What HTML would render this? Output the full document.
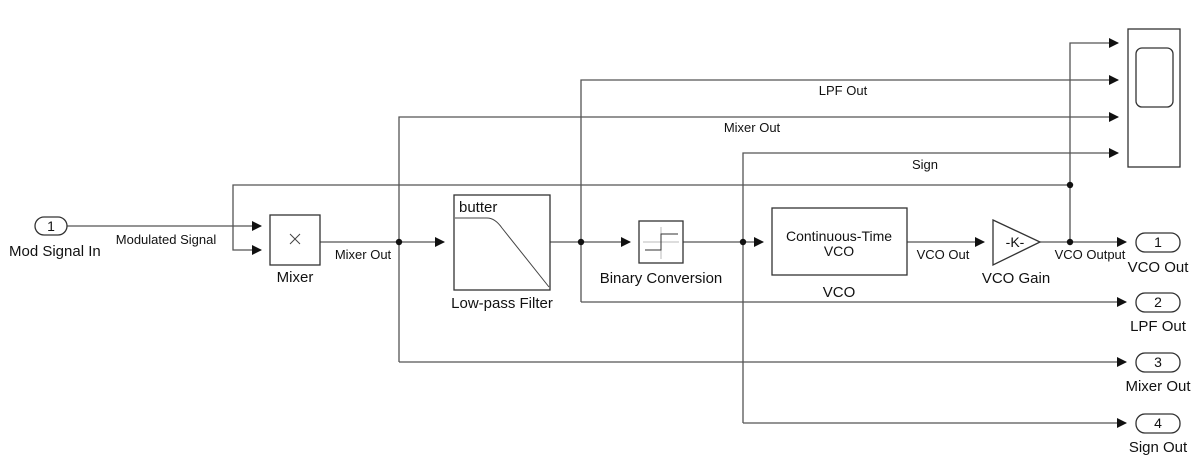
<!DOCTYPE html>
<html><head><style>body{margin:0;background:#fff}svg{display:block}text{font-family:"Liberation Sans",sans-serif;fill:#111}</style></head><body>
<svg width="1200" height="476" viewBox="0 0 1200 476" xmlns="http://www.w3.org/2000/svg">
<defs><marker id="a" markerWidth="10" markerHeight="10" refX="9" refY="5" orient="auto" markerUnits="userSpaceOnUse"><path d="M0,0 L10,5 L0,10z" fill="#111"/></marker></defs>
<g fill="none" stroke="#555" stroke-width="1.3">
<path d="M65,226 H261" marker-end="url(#a)"/>
<path d="M1070,185 H233 V250 H261" marker-end="url(#a)"/>
<path d="M320,242 H444" marker-end="url(#a)"/>
<path d="M399,362 V117 H1118" marker-end="url(#a)"/>
<path d="M399,362 H1126" marker-end="url(#a)"/>
<path d="M550,242 H630" marker-end="url(#a)"/>
<path d="M581,302 V80 H1118" marker-end="url(#a)"/>
<path d="M581,302 H1126" marker-end="url(#a)"/>
<path d="M683,242 H763" marker-end="url(#a)"/>
<path d="M743,423 V153 H1118" marker-end="url(#a)"/>
<path d="M743,423 H1126" marker-end="url(#a)"/>
<path d="M907,242 H984" marker-end="url(#a)"/>
<path d="M1040,242 H1126" marker-end="url(#a)"/>
<path d="M1070,242 V43 H1118" marker-end="url(#a)"/>
</g>
<g fill="#111"><circle cx="399" cy="242" r="3.2"/><circle cx="581" cy="242" r="3.2"/><circle cx="743" cy="242" r="3.2"/><circle cx="1070" cy="242" r="3.2"/><circle cx="1070" cy="185" r="3.2"/></g>
<g fill="#fff" stroke="#333" stroke-width="1.3">
<rect x="35" y="217" width="32" height="18" rx="9"/>
<rect x="270" y="215" width="50" height="50"/>
<rect x="454" y="195" width="96" height="95"/>
<rect x="639" y="221" width="44" height="42"/>
<rect x="772" y="208" width="135" height="67"/>
<path d="M993,220 L1040,242 L993,265 Z"/>
<rect x="1128" y="29" width="52" height="138"/>
<rect x="1136" y="48" width="37" height="59" rx="6"/>
<rect x="1136" y="233" width="44" height="19" rx="9"/>
<rect x="1136" y="293" width="44" height="19" rx="9"/>
<rect x="1136" y="353" width="44" height="19" rx="9"/>
<rect x="1136" y="414" width="44" height="19" rx="9"/>
</g>
<g fill="none" stroke="#444" stroke-width="1">
<path d="M290,234 L300,244 M300,234 L290,244"/>
<path d="M455,218 H487 Q495,218 502,228 L549,287"/>
<path d="M643,242 H679 M661,227 V259" stroke="#bbb"/>
<path d="M645,250 H661 V234 H678" stroke="#333"/>
</g>
<g font-size="15">
<text x="51" y="231" text-anchor="middle" font-size="14">1</text>
<text x="1158" y="247" text-anchor="middle" font-size="14">1</text>
<text x="1158" y="307" text-anchor="middle" font-size="14">2</text>
<text x="1158" y="367" text-anchor="middle" font-size="14">3</text>
<text x="1158" y="428" text-anchor="middle" font-size="14">4</text>
<text x="9" y="256">Mod Signal In</text>
<text x="295" y="282" text-anchor="middle">Mixer</text>
<text x="502" y="308" text-anchor="middle">Low-pass Filter</text>
<text x="661" y="283" text-anchor="middle">Binary Conversion</text>
<text x="839" y="297" text-anchor="middle">VCO</text>
<text x="1016" y="283" text-anchor="middle">VCO Gain</text>
<text x="1158" y="272" text-anchor="middle">VCO Out</text>
<text x="1158" y="331" text-anchor="middle">LPF Out</text>
<text x="1158" y="391" text-anchor="middle">Mixer Out</text>
<text x="1158" y="452" text-anchor="middle">Sign Out</text>
<text x="459" y="212">butter</text>
<text x="839" y="241" text-anchor="middle" font-size="14">Continuous-Time</text>
<text x="839" y="256" text-anchor="middle" font-size="14">VCO</text>
<text x="1015" y="247" text-anchor="middle" font-size="14">-K-</text>
</g>
<g font-size="13">
<text x="166" y="244" text-anchor="middle">Modulated Signal</text>
<text x="363" y="259" text-anchor="middle">Mixer Out</text>
<text x="943" y="259" text-anchor="middle">VCO Out</text>
<text x="1090" y="259" text-anchor="middle">VCO Output</text>
<text x="843" y="95" text-anchor="middle">LPF Out</text>
<text x="752" y="132" text-anchor="middle">Mixer Out</text>
<text x="925" y="169" text-anchor="middle">Sign</text>
</g>
</svg>
</body></html>
